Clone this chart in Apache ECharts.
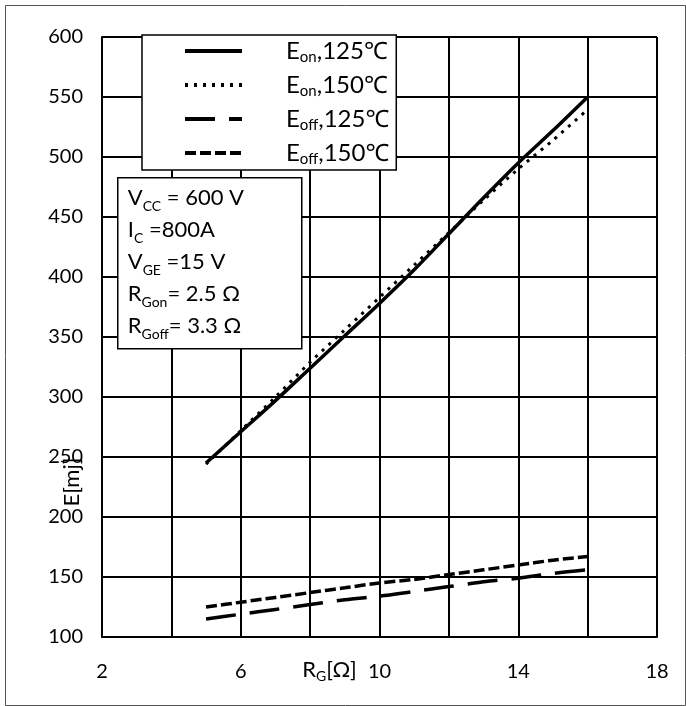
<!DOCTYPE html>
<html>
<head>
<meta charset="utf-8">
<script src="https://cdn.jsdelivr.net/npm/echarts@6/dist/echarts.min.js"></script>
<style>
html,body{margin:0;padding:0;background:#fff;}
#c{width:686px;height:706px;}
</style>
</head>
<body>
<div id="c"></div>
<script>
// ---- data ----
const rg = [5, 6, 7, 8, 9, 10, 11, 12, 13, 14, 15, 16];
const rgEon150 = [5, 6, 7, 8, 9, 10, 11, 12, 13, 14, 15, 15.9];
const eon125 = [245, 271, 297, 324, 351, 378, 406, 436, 466, 495, 522, 550];
const eon150 = [244, 272, 300, 329, 356, 383, 410, 437, 464, 490, 514, 537];
const eoff125 = [115, 119, 123, 127, 131, 134, 138, 142, 146, 149, 153, 156];
const eoff150 = [125, 129, 133, 137, 141, 145, 148, 152, 156, 160, 164, 167];
const xTickLabels = [2, 6, 10, 14, 18];
const yTicks = [100, 150, 200, 250, 300, 350, 400, 450, 500, 550, 600];
const seriesNames = ['Eon125', 'Eon150', 'Eoff125', 'Eoff150'];
const legendLabels = {
  Eon125: ['E', 'on', ',125℃'],
  Eon150: ['E', 'on', ',150℃'],
  Eoff125: ['E', 'off', ',125℃'],
  Eoff150: ['E', 'off', ',150℃']
};
const conditions = [
  ['V', 'CC', ' = 600 V'],
  ['I', 'C', ' =800A'],
  ['V', 'GE', ' =15 V'],
  ['R', 'Gon', '= 2.5 Ω'],
  ['R', 'Goff', '= 3.3 Ω']
];

const FONT = 'Lato, "Noto Sans", sans-serif';
const zip = (xs, ys) => xs.map((x, i) => [x, ys[i]]);

const chart = echarts.init(document.getElementById('c'), null, {renderer: 'canvas'});

const richMain = (size, lh) => ({
  m: {fontFamily: FONT, fontSize: size, color: '#000', lineHeight: lh},
  s: {fontFamily: FONT, fontSize: Math.round(size * 0.62), color: '#000', lineHeight: Math.round(lh * 0.6), verticalAlign: 'bottom'}
});

const condText = conditions.map(c => `{m|${c[0]}}{s|${c[1]}}{m|${c[2]}}`).join('\n');

const option = {
  animation: false,
  backgroundColor: '#fff',
  grid: {left: 102, right: 29, top: 37, bottom: 69, containLabel: false},
  xAxis: {
    type: 'value', min: 2, max: 18, interval: 2,
    name: '{m|R}{s|G}{m|[Ω]}',
    nameLocation: 'middle', nameGap: 20, nameMoveOverlap: false,
    nameTextStyle: {rich: richMain(22, 26), padding: [0, 100, 0, 0], verticalAlign: 'top'},
    axisLine: {show: true, lineStyle: {color: '#000', width: 2}},
    axisTick: {show: false},
    splitLine: {show: true, lineStyle: {color: '#000', width: 2}},
    axisLabel: {
      color: '#000', fontFamily: FONT, fontSize: 20, margin: 25,
      formatter: v => xTickLabels.indexOf(v) >= 0 ? String(v) : ''
    }
  },
  yAxis: {
    type: 'value', min: 100, max: 600, interval: 50,
    name: 'E[mj]',
    nameLocation: 'middle', nameGap: 19, nameMoveOverlap: false,
    nameTextStyle: {color: '#000', fontFamily: FONT, fontSize: 22, padding: [0, 290, 0, 0]},
    axisLine: {show: true, lineStyle: {color: '#000', width: 2}},
    axisTick: {show: false},
    splitLine: {show: true, lineStyle: {color: '#000', width: 2}},
    axisLabel: {
      color: '#000', fontFamily: FONT, fontSize: 20, margin: 19,
      formatter: v => yTicks.indexOf(v) >= 0 ? String(v) : ''
    }
  },
  legend: {
    show: true,
    data: seriesNames,
    orient: 'vertical',
    left: 142, top: 35,
    padding: [4, 7, 3, 41],
    itemGap: 8,
    itemWidth: 57, itemHeight: 28,
    backgroundColor: '#fff',
    borderColor: '#000', borderWidth: 1.5,
    borderRadius: 0,
    lineStyle: {width: 4},
    itemStyle: {color: 'rgba(0,0,0,0)', borderWidth: 0, opacity: 0},
    selectedMode: false,
    z: 10,
    formatter: n => `{m|${legendLabels[n][0]}}{s|${legendLabels[n][1]}}{m|${legendLabels[n][2]}}`,
    textStyle: {padding: [0, 0, 0, 39], rich: richMain(24, 28)}
  },
  graphic: [
    {type: 'rect', left: 3, top: 3, z: 0, silent: true,
     shape: {width: 680, height: 700}, style: {fill: 'none', stroke: '#555', lineWidth: 1}},
    {type: 'group', left: 117, top: 177, z: 100, children: [
      {type: 'rect', shape: {x: 0, y: 0, width: 184, height: 171},
       style: {fill: '#fff', stroke: '#000', lineWidth: 1.5}, z: 100},
      {type: 'text', x: 10, y: 4, z: 101,
       style: {text: condText, rich: richMain(22, 32), fill: '#000'}}
    ]}
  ],
  series: [
    {name: 'Eon125', type: 'line', data: zip(rg, eon125), symbol: 'none', smooth: 0.3,
     lineStyle: {color: '#000', width: 3.5, type: 'solid'}, itemStyle: {color: '#000'}},
    {name: 'Eon150', type: 'line', data: zip(rgEon150, eon150), symbol: 'none', smooth: 0.3,
     lineStyle: {color: '#000', width: 3, type: [3, 6]}, itemStyle: {color: '#000'}},
    {name: 'Eoff125', type: 'line', data: zip(rg, eoff125), symbol: 'none', smooth: 0.3,
     lineStyle: {color: '#000', width: 3.5, type: [30, 14]}, itemStyle: {color: '#000'}},
    {name: 'Eoff150', type: 'line', data: zip(rg, eoff150), symbol: 'none', smooth: 0.3,
     lineStyle: {color: '#000', width: 3.5, type: [11, 4]}, itemStyle: {color: '#000'}}
  ]
};
chart.setOption(option);
</script>
</body>
</html>
